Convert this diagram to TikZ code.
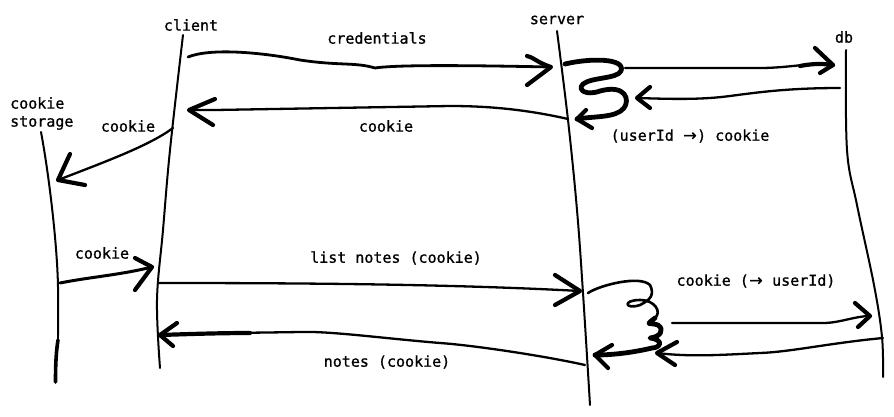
\documentclass[tikz,border=0pt]{standalone}
\usepackage{fontspec}
\setmonofont{DejaVu Sans Mono}[FakeBold=0.9]
\newfontfamily\arrowfont{DejaVu Sans}[FakeBold=0.9]
\newcommand{\rarr}{\makebox[0.95em][c]{\arrowfont\fontsize{16}{16}\selectfont →}}
\begin{document}
\begin{tikzpicture}[x=1pt,y=-1pt,
  life/.style={line width=2pt, line cap=round, line join=round},
  msg/.style={line width=2.3pt, line cap=round, line join=round},
  head/.style={line width=4.2pt, line cap=round, line join=round},
  scrib/.style={line width=4.8pt, line cap=round, line join=round},
  lbl/.style={font=\ttfamily\fontsize{15}{18}\selectfont, inner sep=0pt}]
\useasboundingbox[fill=white] (0,0) rectangle (894,416);

% labels
\node[lbl] (lclient) at (191,25) {client};
\node[lbl] (lserver) at (557,20) {server};
\node[lbl] (ldb) at (844,37) {db};
\node[lbl, align=left, anchor=north west] (lstore) at (10,97) {cookie\\storage};
\node[lbl] (lcred) at (377,38) {credentials};
\node[lbl] (lck1) at (128,126) {cookie};
\node[lbl] (lck2) at (386,126) {cookie};
\node[lbl] (luid1) at (690,136) {(userId \rarr) cookie};
\node[lbl] (lck3) at (102,253) {cookie};
\node[lbl] (llist) at (396,258) {list notes (cookie)};
\node[lbl] (lnotes) at (387,362) {notes (cookie)};
\node[lbl] (luid2) at (756,281) {cookie (\rarr{} userId)};

% lifelines
\draw[life] plot[smooth, tension=0.6] coordinates {(183,35) (170,150) (163,230) (157,300) (160,368)};
\draw[life] (41,132) .. controls (50,180) and (59,260) .. (58,300) -- (58,335);
\draw[line width=2.4pt, line cap=round] (58,320) -- (58,343);
\draw[line width=3.6pt, line cap=round] (58,340) .. controls (56.5,350) and (55.5,360) .. (55.5,382);
\draw[life] plot[smooth, tension=0.6] coordinates {(557,31) (568,120) (577,210) (583,293) (590,405)};
\draw[life] plot[smooth, tension=0.6] coordinates {(846,50) (847,150) (857,205) (874,285) (882,337) (883,377)};

% connector end points
\coordinate (a1s) at (188,57);   \coordinate (a1e) at (551,67);
\coordinate (a2s) at (568,119);  \coordinate (a2e) at (189,110);
\coordinate (a3s) at (625,68);   \coordinate (a3e) at (833,65);
\coordinate (a4s) at (840,88);   \coordinate (a4e) at (637,98);
\coordinate (a5s) at (173,128);  \coordinate (a5e) at (58,180);
\coordinate (a6s) at (60,283);   \coordinate (a6e) at (152,267);
\coordinate (a7s) at (158,283);  \coordinate (a7e) at (580,291);
\coordinate (a9s) at (672,323);  \coordinate (a9e) at (870,316);
\coordinate (a10s) at (883,338); \coordinate (a10e) at (657,353);
\coordinate (a11s) at (585,365); \coordinate (a11e) at (160,335);
\coordinate (sc1s) at (565,64);  \coordinate (sc1e) at (577,119);
\coordinate (sc2s) at (588,293); \coordinate (sc2e) at (595,355);

% credentials
\draw[msg, line width=2.8pt] (a1s) .. controls (210,48) and (260,52) .. (300,60)
  .. controls (340,66) and (355,62) .. (375,68) .. controls (400,64) and (500,66) .. (a1e);
\draw[head] (527,56) .. controls (535,58) and (536,62) .. (a1e) -- (527,85);

% cookie back to client
\draw[msg] (a2s) .. controls (520,108) and (480,106) .. (450,106) -- (215,110) -- (a2e);
\draw[head] (215,99) -- (a2e) -- (213,125);

% scribble 1 at server
\draw[scrib] (sc1s) .. controls (590,58) and (626,58) .. (621,71)
  .. controls (617,79) and (592,77) .. (583,84)
  .. controls (577,90) and (586,96) .. (600,91)
  .. controls (626,84) and (630,100) .. (624,108)
  .. controls (616,118) and (595,116) .. (sc1e);
\draw[head] (586,110) -- (sc1e) -- (592,128);

% server -> db
\draw[msg] (a3s) -- (760,68) .. controls (790,68) and (810,62) .. (a3e);
\draw[head] (800,66) .. controls (815,63) and (825,64) .. (a3e);
\draw[head] (815,48) -- (a3e) -- (820,73);

% db -> server
\draw[msg] (a4s) .. controls (790,88) and (760,92) .. (730,96) .. controls (700,100) and (670,99) .. (a4e);
\draw[head] (650,87) -- (a4e) -- (650,108);

% client -> cookie storage
\draw[msg] (a5s) .. controls (150,145) and (110,160) .. (a5e);
\draw[head] (70,154) -- (a5e) -- (85,185);

% cookie storage -> client
\draw[msg, line width=3pt] (a6s) .. controls (90,277) and (120,275) .. (a6e);
\draw[head] (135,258) -- (a6e) -- (135,290);

% list notes
\draw[msg] (a7s) .. controls (300,283) and (450,284) .. (a7e);
\draw[head] (555,275) -- (a7e) -- (555,305);

% scribble 2 at server
\draw[msg, line width=2.6pt] (sc2s) .. controls (600,285) and (640,275) .. (650,285)
  .. controls (655,295) and (650,300) .. (640,305)
  .. controls (625,310) and (622,300) .. (640,300)
  .. controls (655,300) and (662,312) .. (655,318);
\draw[scrib] (655,318) .. controls (645,326) and (648,322) .. (658,325)
  .. controls (665,330) and (660,337) .. (650,338)
  .. controls (665,340) and (660,348) .. (652,348)
  .. controls (635,352) and (615,355) .. (sc2e);
\draw[head] (612,345) -- (sc2e) -- (608,368);

% server -> db lower
\draw[msg] (a9s) -- (823,323) .. controls (840,323) and (855,316) .. (a9e);
\draw[head] (855,303) -- (a9e) -- (858,327);

% db -> server lower
\draw[msg] (a10s) .. controls (830,343) and (790,352) .. (760,353) .. controls (720,355) and (690,357) .. (a10e);
\draw[head] (677,342) -- (a10e) -- (675,365);

% notes back to client
\draw[msg] (a11s) .. controls (540,355) and (470,345) .. (440,343)
  .. controls (380,338) and (330,331) .. (300,332)
  .. controls (240,333) and (200,333) .. (a11e);
\draw[head] (250,333) .. controls (220,333) and (190,334) .. (a11e);
\draw[head] (177,323) -- (a11e) -- (173,346);
\end{tikzpicture}
\end{document}
